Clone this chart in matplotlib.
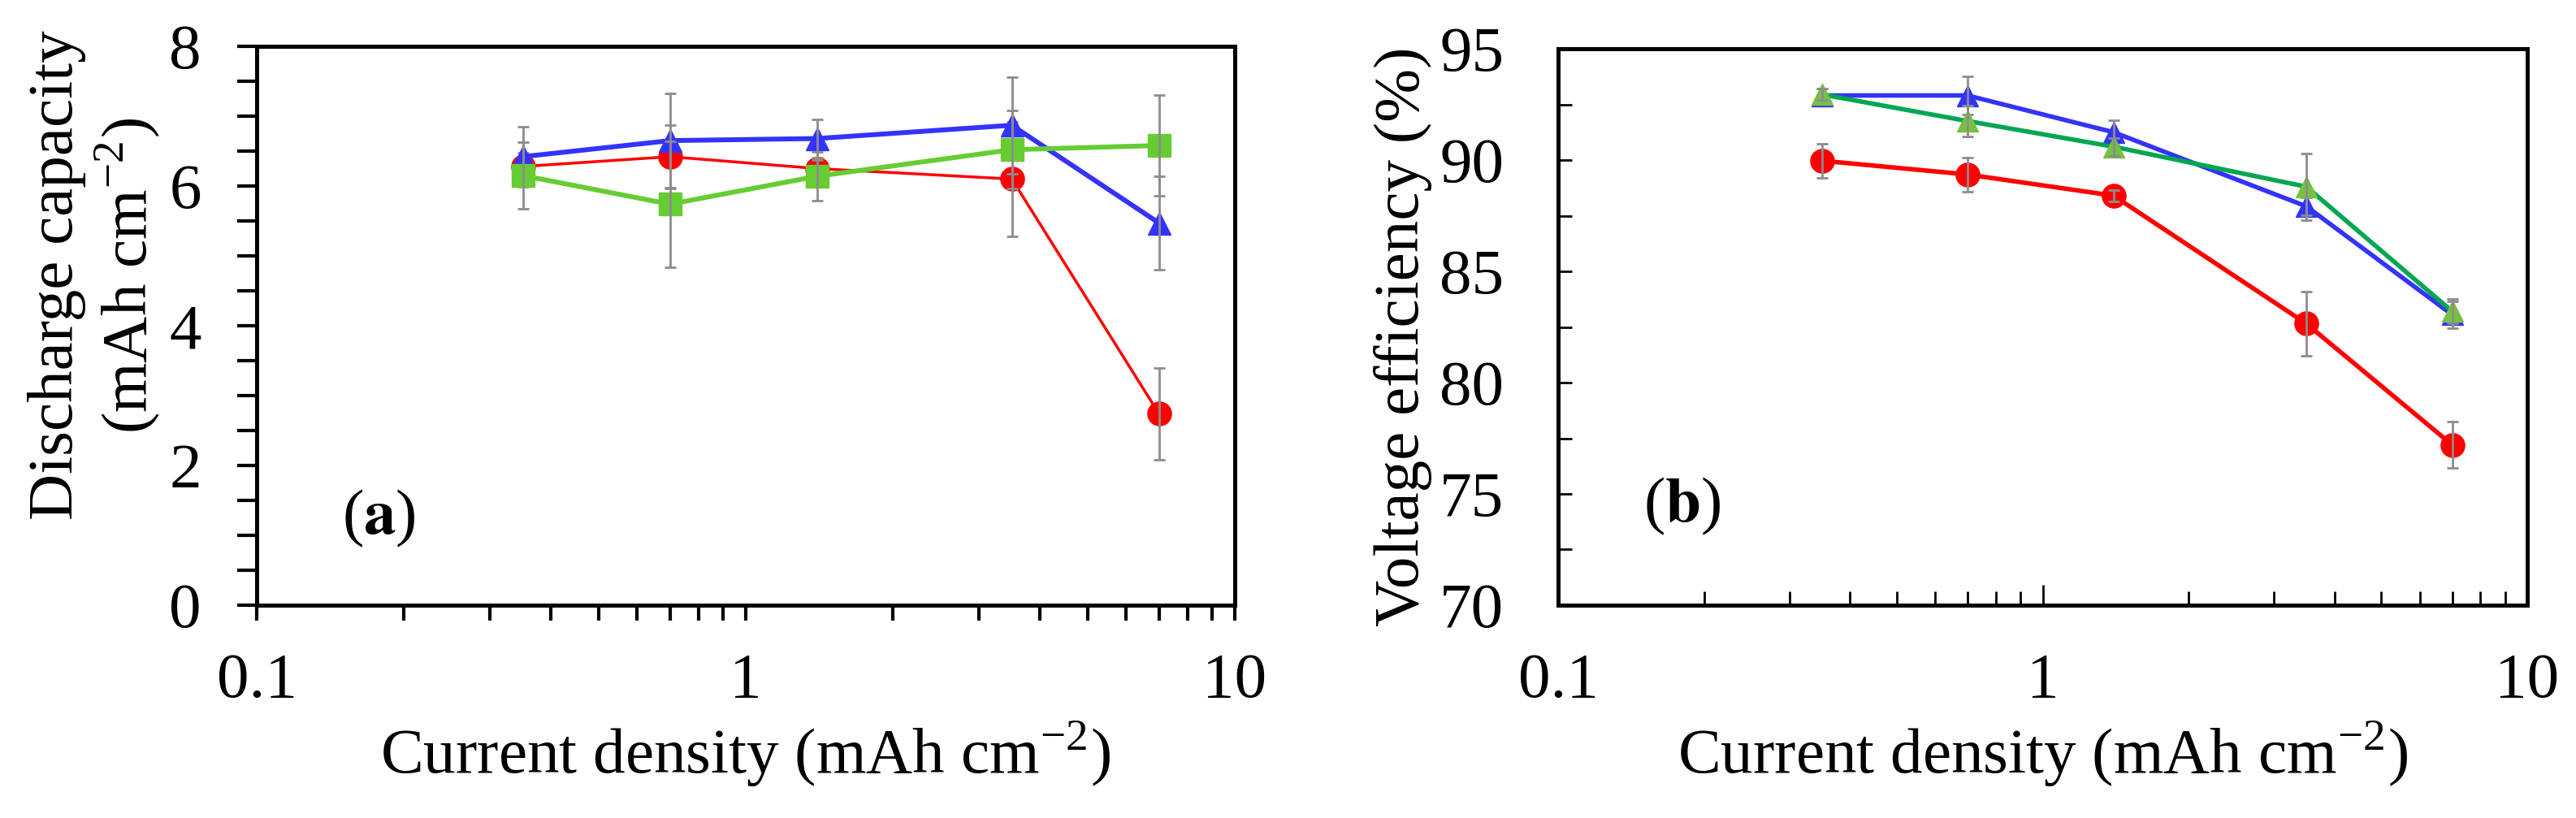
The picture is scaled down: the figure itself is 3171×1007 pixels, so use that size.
import matplotlib
matplotlib.use("Agg")
import matplotlib.pyplot as plt
from matplotlib.ticker import MultipleLocator, LogLocator, NullFormatter, FixedLocator, FixedFormatter

plt.rcParams['font.family'] = ['Liberation Serif', 'DejaVu Serif']
plt.rcParams['mathtext.fontset'] = 'stix'

# ---- data ----
current_density = [0.35, 0.7, 1.4, 3.5, 7.0]

cap_red = [6.28, 6.42, 6.25, 6.10, 2.74]
cap_red_err = [0.20, 0.45, 0.12, 0.82, 0.66]
cap_blue = [6.42, 6.65, 6.68, 6.87, 5.47]
cap_blue_err = [0.43, 0.67, 0.27, 0.69, 0.67]
cap_green = [6.15, 5.74, 6.14, 6.52, 6.58]
cap_green_err = [0.48, 0.90, 0.35, 0.56, 0.72]

ve_red = [89.97, 89.35, 88.40, 82.65, 77.20]
ve_red_err = [0.77, 0.76, 0.25, 1.44, 1.03]
ve_blue = [92.90, 92.90, 91.25, 87.92, 83.05]
ve_blue_err = [0.30, 0.85, 0.55, 0.40, 0.60]
ve_green = [92.95, 91.75, 90.60, 88.80, 83.20]
ve_green_err = [0.25, 0.70, 0.40, 1.50, 0.55]

x_ticks = [0.1, 1, 10]
x_ticklabels = ['0.1', '1', '10']
xlabel = 'Current density (mAh cm$^{\\mathregular{-2}}$)'
ylabel_a = 'Discharge capacity\n(mAh cm$^{\\mathregular{-2}}$)'
ylabel_b = 'Voltage efficiency (%)'

# ---- figure ----
W, H = 3171, 1007
fig = plt.figure(figsize=(W / 100, H / 100), dpi=100)
FS = 57
ERRC = '#8c8c8c'

def px_axes(x0, x1, ytop, ybot):
    return fig.add_axes([x0 / W, 1 - ybot / H, (x1 - x0) / W, (ybot - ytop) / H])

ax1 = px_axes(316, 1520, 57, 745)
ax2 = px_axes(1918, 3111, 60, 745)

def series(ax, y, e, color, mk, ms, lw, z, mcolor=None):
    ax.errorbar(current_density, y, yerr=e, fmt='none', ecolor=ERRC,
                elinewidth=2.0, capsize=5, capthick=2.0, zorder=z + 0.5)
    ax.plot(current_density, y, color=color, lw=lw, marker=mk, ms=ms,
            mfc=mcolor or color, mec=mcolor or color, zorder=z)

# panel (a)
series(ax1, cap_red, cap_red_err, '#ff0000', 'o', 21, 2.5, 3)
series(ax1, cap_blue, cap_blue_err, '#3333ff', '^', 20, 4.3, 4)
series(ax1, cap_green, cap_green_err, '#66cc33', 's', 20, 4.3, 5)

# panel (b)
series(ax2, ve_red, ve_red_err, '#ff0000', 'o', 21, 4.0, 3)
series(ax2, ve_blue, ve_blue_err, '#3333ff', '^', 19, 4.0, 4)
series(ax2, ve_green, ve_green_err, '#00a651', '^', 19, 4.0, 5, mcolor='#77c043')

for ax in (ax1, ax2):
    ax.set_xscale('log')
    ax.set_xlim(0.1, 10)
    ax.xaxis.set_major_locator(FixedLocator(x_ticks))
    ax.xaxis.set_major_formatter(FixedFormatter(x_ticklabels))
    ax.xaxis.set_minor_locator(LogLocator(base=10, subs=range(2, 10)))
    ax.xaxis.set_minor_formatter(NullFormatter())
    for s in ax.spines.values():
        s.set_linewidth(3.6)
    ax.tick_params(labelsize=FS)
    ax.set_xlabel(xlabel, fontsize=FS)

ax1.set_ylim(0, 8)
ax1.yaxis.set_major_locator(MultipleLocator(2))
ax1.yaxis.set_minor_locator(MultipleLocator(0.5))
ax1.tick_params(axis='y', which='both', direction='out', length=17, width=3, pad=32, left=True, right=False)
ax1.tick_params(axis='x', which='both', direction='out', length=14, width=3, pad=28, top=False)
ax1.set_ylabel(ylabel_a, fontsize=FS, linespacing=1.12)
ax1.yaxis.set_label_coords(-0.097, 0.59)
ax1.xaxis.set_label_coords(0.5, -0.205)
ax1.text(0.178, 1.24, '($\\mathbf{a}$)', fontsize=FS, ha='center', va='center',
         transform=ax1.transData)

ax2.set_ylim(70, 95)
ax2.yaxis.set_major_locator(MultipleLocator(5))
ax2.yaxis.set_minor_locator(MultipleLocator(2.5))
ax2.tick_params(axis='y', which='both', direction='in', length=12, width=2, pad=48, left=True, right=False)
ax2.tick_params(axis='x', which='minor', direction='in', length=12, width=2, pad=42, top=False)
ax2.tick_params(axis='x', which='major', direction='in', length=18, width=2, pad=42, top=False)
ax2.set_ylabel(ylabel_b, fontsize=FS)
ax2.yaxis.set_label_coords(-0.130, 0.483)
ax2.xaxis.set_label_coords(0.5, -0.205)
ax2.text(0.18, 74.45, '($\\mathbf{b}$)', fontsize=FS, ha='center', va='center',
         transform=ax2.transData)

fig.savefig('out.png', dpi=100, facecolor='white')
